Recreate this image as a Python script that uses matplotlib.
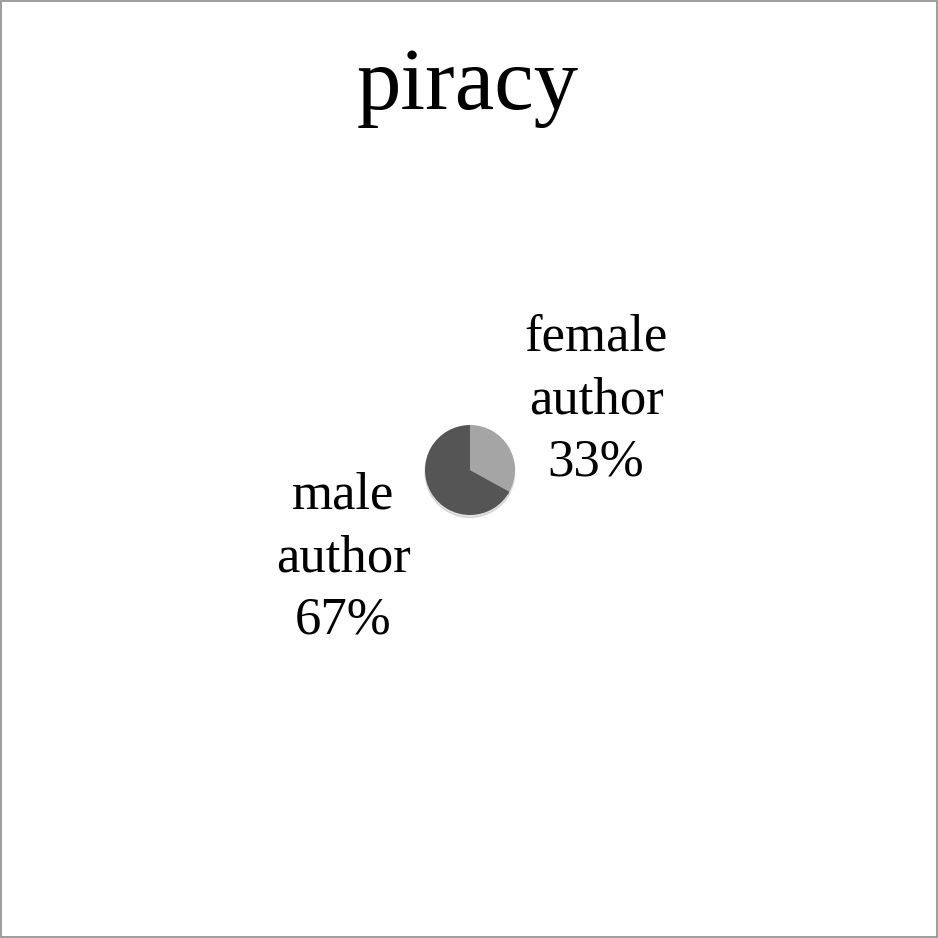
import matplotlib.pyplot as plt
from matplotlib.patches import Rectangle

# Data
labels = ["female\nauthor", "male\nauthor"]
shares = [33, 67]
colors = ["#a5a5a5", "#555555"]

W = H = 938
fig = plt.figure(figsize=(9.38, 9.38), dpi=100)
plt.rcParams["font.family"] = ["Liberation Serif", "DejaVu Serif"]

# border
fig.add_artist(Rectangle((0.001, 0.001), 0.998, 0.998, transform=fig.transFigure,
                         fill=False, edgecolor="#8c8c8c", linewidth=1.2))

fig.text(468 / W, 1 - 88 / H, "piracy", ha="center", va="center", fontsize=64)

# pie
cx, cy, r = 470, 470, 45
ax = fig.add_axes([(cx - r) / W, 1 - (cy + r) / H, 2 * r / W, 2 * r / H])
ax.pie(shares, colors=colors, startangle=90, counterclock=False,
       shadow={"ox": 0.0, "oy": -0.04, "shade": 0.2, "alpha": 0.15})
ax.set_xlim(-1, 1)
ax.set_ylim(-1, 1)
ax.set_aspect("equal")
ax.axis("off")

# labels
label_pos = [(596, 400), (343, 558)]
for lab, s, (x, y) in zip(labels, shares, label_pos):
    fig.text(x / W, 1 - y / H, f"{lab}\n{s}%", ha="center", va="center",
             fontsize=38, linespacing=1.39)

fig.savefig("out.png", dpi=100)
